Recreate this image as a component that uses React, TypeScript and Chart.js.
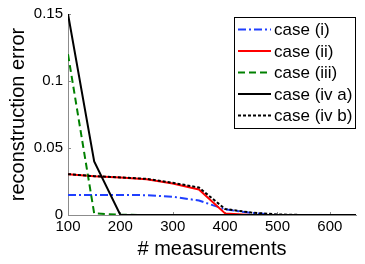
import React, { useEffect, useRef } from "react";
import { Chart, registerables } from "chart.js";

Chart.register(...registerables);

const xValues = [100, 150, 200, 250, 300, 350, 400, 450, 500, 550, 600, 650];
const caseI = [0.015, 0.015, 0.015, 0.0148, 0.0136, 0.0108, 0.0042, 0.0015, 0, 0, 0, 0];
const caseII = [0.0305, 0.029, 0.028, 0.0266, 0.0235, 0.019, 0.0012, 0, 0, 0, 0, 0];
const caseIII = [0.12, 0.0012, 0.0002, 0, 0, 0, 0, 0, 0, 0, 0, 0];
const caseIVa = [0.15, 0.04, 0, 0, 0, 0, 0, 0, 0, 0, 0, 0];
const caseIVb = [0.0305, 0.029, 0.028, 0.027, 0.024, 0.0205, 0.0045, 0.0018, 0.0004, 0, 0, 0];
const seriesNames = ["case (i)", "case (ii)", "case (iii)", "case (iv a)", "case (iv b)"];
const xTicks = [100, 200, 300, 400, 500, 600];
const yTicks = [0, 0.05, 0.1, 0.15];

const FONT = "'Liberation Sans', Arial, Helvetica, sans-serif";

const legendPlugin = {
  id: "boxLegend",
  afterDraw(chart: any) {
    const ctx = chart.ctx;
    const x0 = 234.5, y0 = 17.5, w = 121, h = 111;
    ctx.save();
    ctx.fillStyle = "#ffffff";
    ctx.fillRect(x0, y0, w, h);
    ctx.strokeStyle = "#000000";
    ctx.lineWidth = 1;
    ctx.setLineDash([]);
    ctx.strokeRect(x0, y0, w, h);
    chart.data.datasets.forEach((ds: any, i: number) => {
      const y = 29.5 + i * 21.5;
      ctx.beginPath();
      ctx.strokeStyle = ds.borderColor;
      ctx.lineWidth = ds.borderWidth;
      ctx.setLineDash(ds.borderDash || []);
      ctx.moveTo(238, y);
      ctx.lineTo(271, y);
      ctx.stroke();
      ctx.setLineDash([]);
      ctx.fillStyle = "#000";
      ctx.font = `17px ${FONT}`;
      ctx.textBaseline = "middle";
      ctx.textAlign = "left";
      ctx.fillText(ds.label, 274, y + 1);
    });
    ctx.restore();
  },
};

const tickPlugin = {
  id: "innerTicks",
  beforeDatasetsDraw(chart: any) {
    const ctx = chart.ctx;
    const { left, bottom } = chart.chartArea;
    const xs = chart.scales.x;
    const ys = chart.scales.y;
    ctx.save();
    ctx.strokeStyle = "#8c8c8c";
    ctx.lineWidth = 1;
    xTicks.forEach((v) => {
      const px = Math.round(xs.getPixelForValue(v)) + 0.5;
      ctx.beginPath();
      ctx.moveTo(px, bottom);
      ctx.lineTo(px, bottom - 3);
      ctx.stroke();
    });
    yTicks.forEach((v) => {
      const py = Math.round(ys.getPixelForValue(v)) + 0.5;
      ctx.beginPath();
      ctx.moveTo(left, py);
      ctx.lineTo(left + 3, py);
      ctx.stroke();
    });
    ctx.restore();
  },
};

export default function App() {
  const ref = useRef<HTMLCanvasElement | null>(null);
  useEffect(() => {
    if (!ref.current) return;
    const mk = (arr: number[]) => xValues.map((x, i) => ({ x, y: arr[i] }));
    const chart = new Chart(ref.current, {
      type: "line",
      data: {
        datasets: [
          { label: seriesNames[0], data: mk(caseI), order: 4, borderColor: "#1f3fff", borderWidth: 2, borderDash: [8, 3, 2, 3], pointRadius: 0, fill: false, tension: 0 },
          { label: seriesNames[1], data: mk(caseII), order: 3, borderColor: "#ff0000", borderWidth: 2, pointRadius: 0, fill: false, tension: 0 },
          { label: seriesNames[2], data: mk(caseIII), order: 2, borderColor: "#008000", borderWidth: 2, borderDash: [7, 4], pointRadius: 0, fill: false, tension: 0 },
          { label: seriesNames[3], data: mk(caseIVa), order: 1, borderColor: "#000000", borderWidth: 2, pointRadius: 0, fill: false, tension: 0 },
          { label: seriesNames[4], data: mk(caseIVb), order: 0, borderColor: "#000000", borderWidth: 2, borderDash: [3, 2], pointRadius: 0, fill: false, tension: 0 },
        ],
      },
      options: {
        animation: false,
        responsive: false,
        maintainAspectRatio: false,
        layout: { padding: { top: 12, right: 9, bottom: 0, left: 0 } },
        plugins: { legend: { display: false }, tooltip: { enabled: false } },
        scales: {
          x: {
            type: "linear",
            min: 100,
            max: 650,
            grid: { display: false, drawTicks: false },
            border: { display: true, color: "#8c8c8c", width: 1 },
            afterFit: (s: any) => { s.height = 49; },
            afterBuildTicks: (s: any) => { s.ticks = xTicks.map((v) => ({ value: v })); },
            ticks: {
              color: "#000",
              font: { family: FONT, size: 15 },
              padding: 3,
              maxRotation: 0,
              autoSkip: false,
              callback: (v: any) => String(v),
            },
            title: {
              display: true,
              text: "# measurements",
              color: "#000",
              font: { family: FONT, size: 20 },
              padding: { top: 0, bottom: 3 },
            },
          },
          y: {
            type: "linear",
            min: 0,
            max: 0.15,
            grid: { display: false, drawTicks: false },
            border: { display: true, color: "#8c8c8c", width: 1 },
            afterFit: (s: any) => { s.width = 68; },
            afterBuildTicks: (s: any) => { s.ticks = yTicks.map((v) => ({ value: v })); },
            ticks: {
              color: "#000",
              font: { family: FONT, size: 15 },
              padding: 5,
              callback: (v: any) => String(Number(v)),
            },
            title: {
              display: true,
              text: "reconstruction error",
              color: "#000",
              font: { family: FONT, size: 20 },
              padding: { top: 6, bottom: 0 },
            },
          },
        },
      },
      plugins: [tickPlugin, legendPlugin],
    } as any);
    return () => chart.destroy();
  }, []);
  return (
    <div style={{ position: "fixed", left: 0, top: 0, width: 365, height: 264, background: "#fff" }}>
      <canvas ref={ref} width={365} height={264} style={{ width: 365, height: 264, display: "block" }} />
    </div>
  );
}
